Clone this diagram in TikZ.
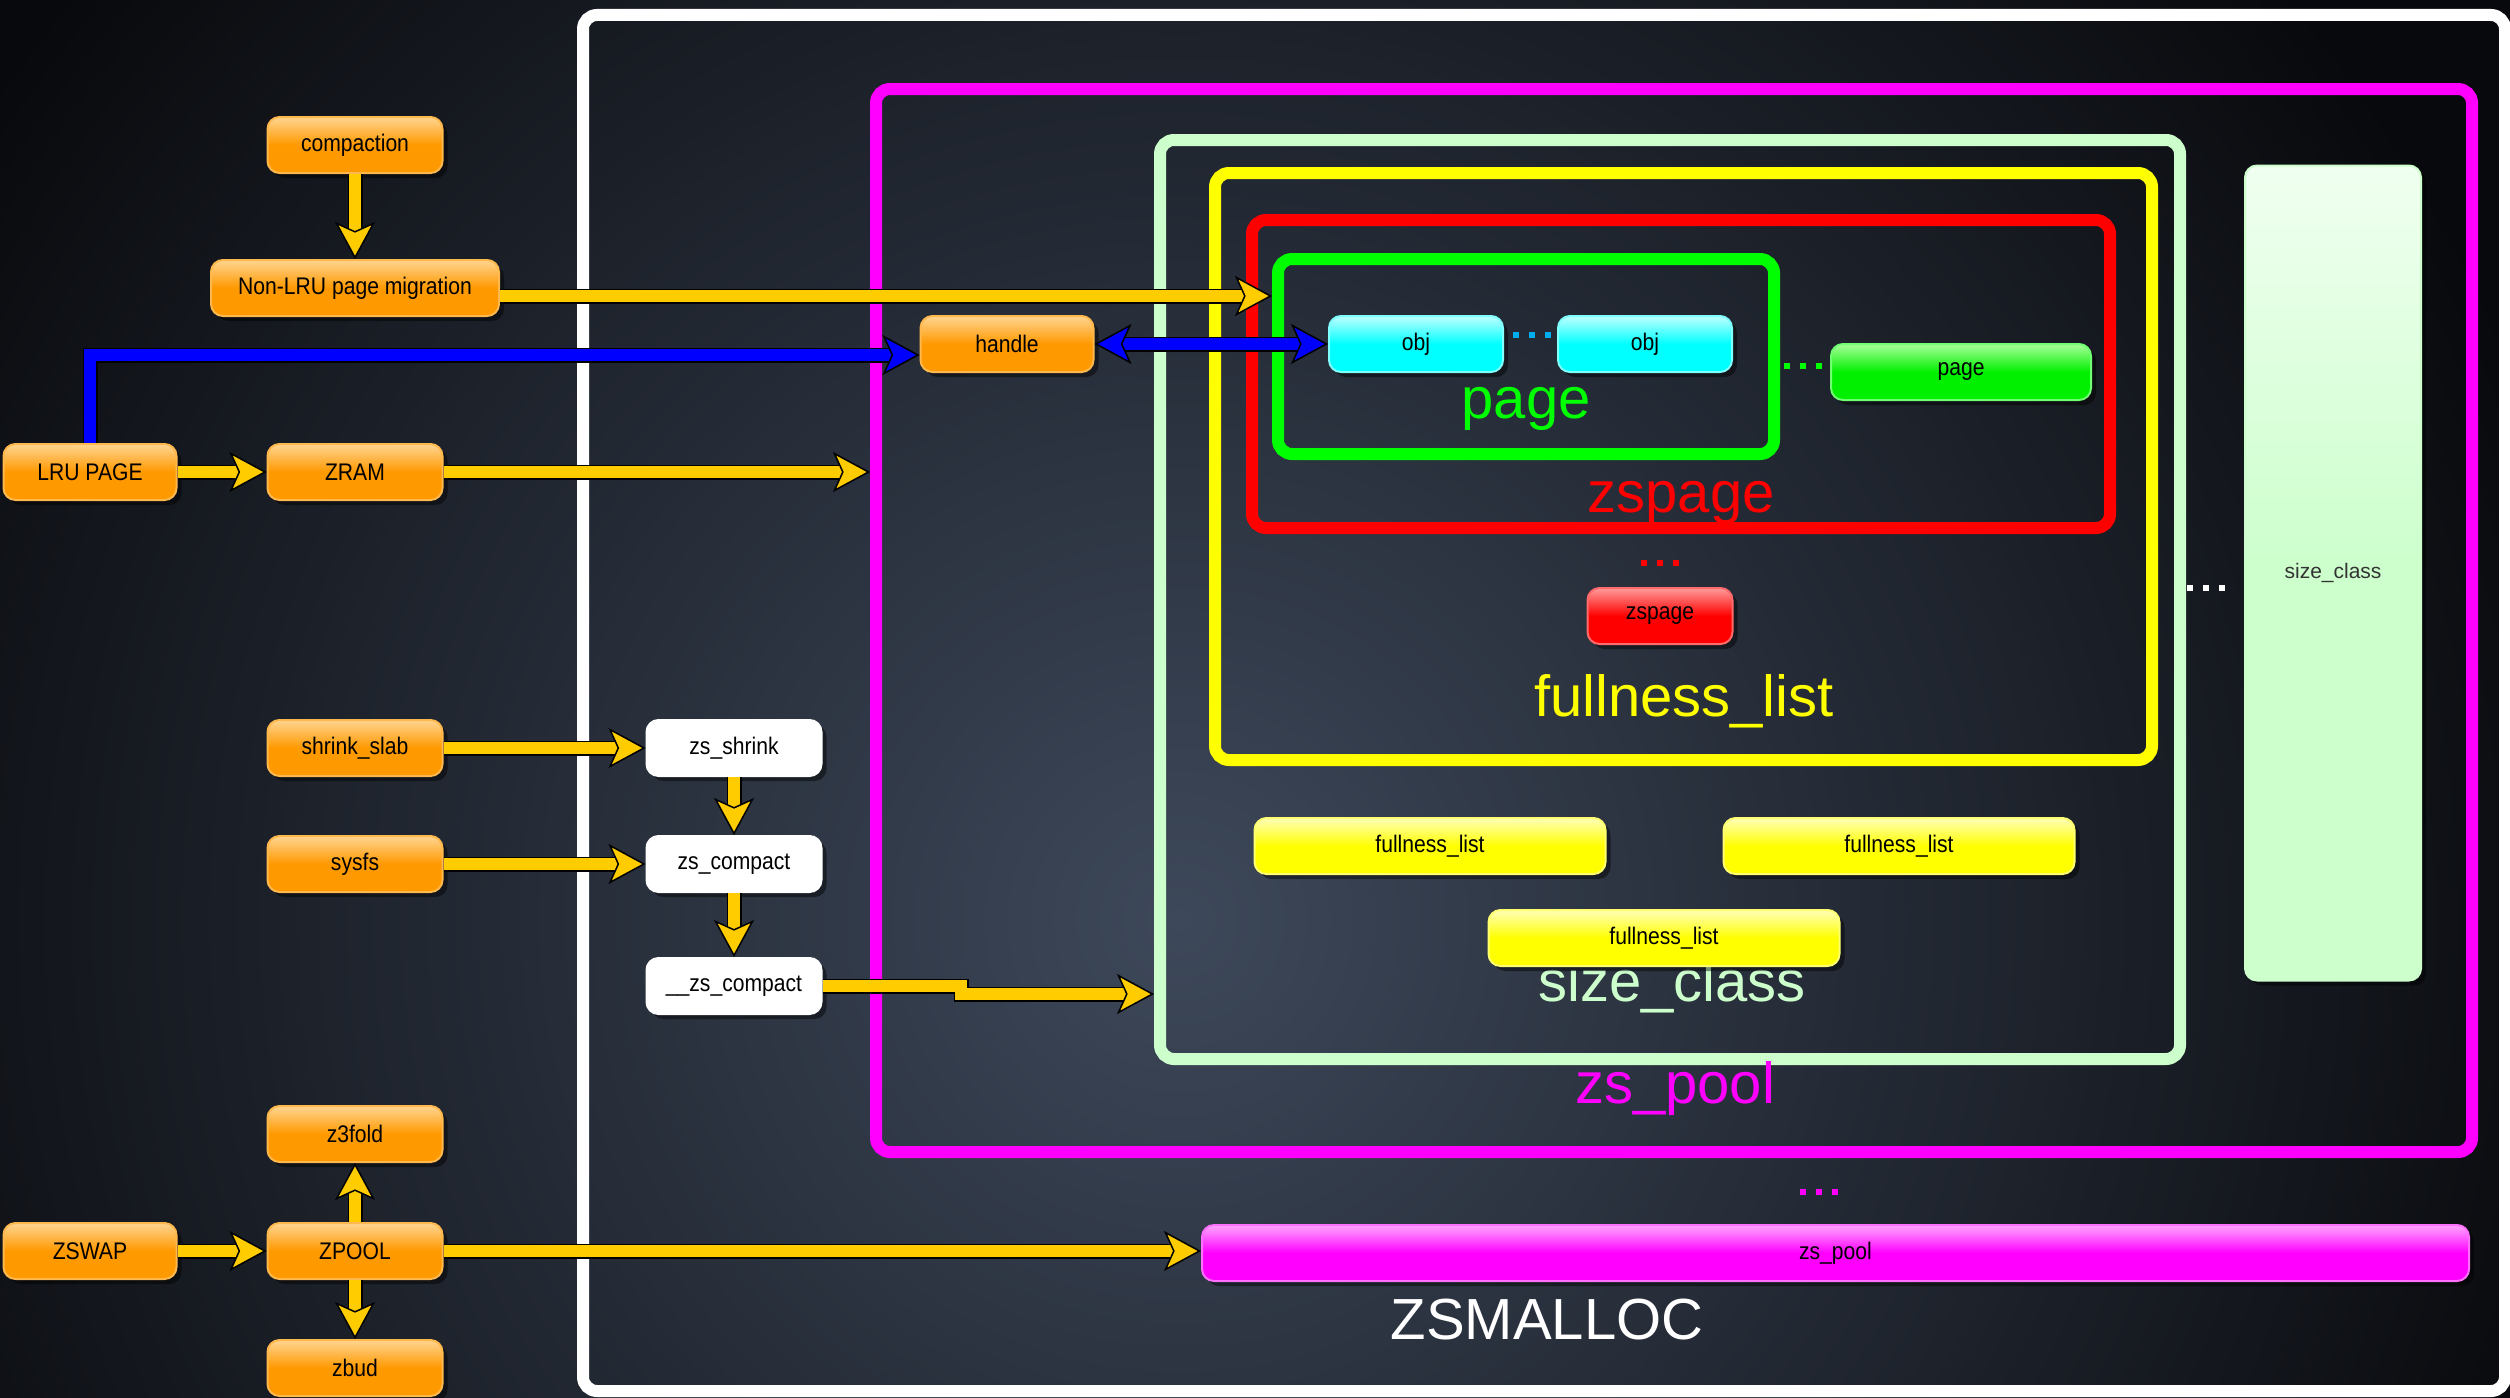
\documentclass[tikz,border=0pt]{standalone}
\usepackage{fontspec}
\setmainfont{Liberation Sans}
\newfontfamily\nf{Liberation Sans}[FakeStretch=0.88]
\usetikzlibrary{arrows.meta,shadows,calc}
\definecolor{bgout}{HTML}{08090C}
\definecolor{bgin}{HTML}{3D485A}
\definecolor{arrY}{HTML}{FFCC00}
\definecolor{arrB}{HTML}{0000FF}
\definecolor{oBase}{HTML}{FF9900}
\definecolor{oTop}{HTML}{FFD591}
\definecolor{oEdge}{HTML}{FFB84D}
\definecolor{cBase}{HTML}{00FFFF}
\definecolor{cTop}{HTML}{BFFFFF}
\definecolor{cEdge}{HTML}{80FFFF}
\definecolor{gBase}{HTML}{00F000}
\definecolor{gTop}{HTML}{A8FF98}
\definecolor{gEdge}{HTML}{70FF70}
\definecolor{rBase}{HTML}{FF0000}
\definecolor{rTop}{HTML}{FF9C9C}
\definecolor{rEdge}{HTML}{FF6A6A}
\definecolor{yBase}{HTML}{FFFF00}
\definecolor{yTop}{HTML}{FFFFB8}
\definecolor{yEdge}{HTML}{FFFF70}
\definecolor{mBase}{HTML}{FF00FF}
\definecolor{mTop}{HTML}{FFA6FF}
\definecolor{mEdge}{HTML}{FF70FF}
\definecolor{lgreen}{HTML}{CCFFCC}
\definecolor{lgTop}{HTML}{F0FFF0}
\definecolor{fgreen}{HTML}{00FF00}
\definecolor{fred}{HTML}{FF0000}
\definecolor{fyellow}{HTML}{FFFF00}
\definecolor{fmag}{HTML}{FF00FF}
\tikzset{
  frame/.style={rounded corners=14pt, line width=12pt, inner sep=0pt},
  box/.style={rounded corners=12pt, minimum height=56pt, inner sep=0pt,
    font=\nf\fontsize{24}{28}\selectfont, text=black, line width=2pt,
    drop shadow={shadow xshift=5pt, shadow yshift=-5pt, opacity=0.45, fill=black}},
  obox/.style={box, draw=oEdge, top color=oTop, bottom color=oBase, middle color=oBase},
  cbox/.style={box, draw=cEdge, top color=cTop, bottom color=cBase, middle color=cBase},
  gbox/.style={box, draw=gEdge, top color=gTop, bottom color=gBase, middle color=gBase},
  rbox/.style={box, draw=rEdge, top color=rTop, bottom color=rBase, middle color=rBase},
  ybox/.style={box, draw=yEdge, top color=yTop, bottom color=yBase, middle color=yBase},
  mbox/.style={box, draw=mEdge, top color=mTop, bottom color=mBase, middle color=mBase},
  wbox/.style={box, fill=white, draw=white},
  scbox/.style={box, draw=lgreen, top color=lgTop, bottom color=lgreen, middle color=lgreen,
    font=\fontsize{21}{25}\selectfont, text=black!80},
  biglabel/.style={anchor=base, inner sep=0pt, font=\fontsize{58}{64}\selectfont},
  yarr/.style={draw=arrY, line width=12pt,
    -{Stealth[length=37pt, width=40pt, inset=9pt, fill=arrY, color=black, line width=1.5pt]},
    preaction={draw=black, line width=15pt, -, shorten >=30pt}},
  barr/.style={draw=arrB, line width=12pt,
    -{Stealth[length=37pt, width=40pt, inset=9pt, fill=arrB, color=black, line width=1.5pt]},
    preaction={draw=black, line width=15pt, -, shorten >=30pt}},
  bdarr/.style={draw=arrB, line width=12pt,
    {Stealth[length=37pt, width=40pt, inset=9pt, fill=arrB, color=black, line width=1.5pt]}-{Stealth[length=37pt, width=40pt, inset=9pt, fill=arrB, color=black, line width=1.5pt]},
    preaction={draw=black, line width=15pt, -, shorten >=30pt, shorten <=30pt}},
  dots/.style={line width=6pt, dash pattern=on 6pt off 10pt}
}
\begin{document}
\begin{tikzpicture}[x=1pt,y=-1pt]
\useasboundingbox (0,0) rectangle (2510,1397);
% background
\fill[bgout] (0,0) rectangle (2510,1397);
\begin{scope}
  \clip (0,0) rectangle (2510,1397);
  \shade[inner color=bgin, outer color=bgout] (1180,920) circle (1450pt);
\end{scope}

% frames
\node[frame, draw=white, minimum width=1922pt, minimum height=1376pt] (zsmfr) at (1544,703) {};
\node[frame, draw=fmag, minimum width=1596pt, minimum height=1063pt] (poolfr) at (1674,620.5) {};
\node[frame, draw=lgreen, minimum width=1020pt, minimum height=919pt] (scfr) at (1670,599.5) {};
\node[frame, draw=fyellow, minimum width=937pt, minimum height=587pt] (flfr) at (1683.5,466.5) {};
\node[frame, draw=fred, minimum width=858pt, minimum height=308pt] (zspfr) at (1681,374) {};
\node[frame, draw=fgreen, minimum width=496pt, minimum height=195pt] (pagefr) at (1526,356.5) {};

% big labels
\node[biglabel, text=fgreen] (lpage) at (1526,418) {page};
\node[biglabel, text=fred] (lzspage) at (1681,512) {zspage};
\node[biglabel, text=fyellow] (lfl) at (1684,716) {fullness\_list};
\node[biglabel, text=lgreen] (lsc) at (1672,1001) {size\_class};
\node[biglabel, text=fmag] (lpool) at (1675,1103) {zs\_pool};
\node[biglabel, text=white] (lzsm) at (1547,1339) {ZSMALLOC};

% left boxes
\node[obox, minimum width=175pt] (compaction) at (355,145) {compaction};
\node[obox, minimum width=288pt] (nonlru) at (355,288) {Non-LRU page migration};
\node[obox, minimum width=173pt] (lru) at (90,472) {LRU PAGE};
\node[obox, minimum width=175pt] (zram) at (355,472) {ZRAM};
\node[obox, minimum width=173pt] (handle) at (1007,344) {handle};
\node[obox, minimum width=175pt] (shrink) at (355,748) {shrink\_slab};
\node[obox, minimum width=175pt] (sysfs) at (355,864) {sysfs};
\node[obox, minimum width=175pt] (z3fold) at (355,1134) {z3fold};
\node[obox, minimum width=173pt] (zswap) at (90,1251) {ZSWAP};
\node[obox, minimum width=175pt] (zpool) at (355,1251) {ZPOOL};
\node[obox, minimum width=175pt] (zbud) at (355,1368) {zbud};

% white boxes
\node[wbox, minimum width=175pt] (zsshrink) at (734,748) {zs\_shrink};
\node[wbox, minimum width=175pt] (zscompact) at (734,864) {zs\_compact};
\node[wbox, minimum width=175pt] (zscompactb) at (734,986) {\_\_zs\_compact};

% inner boxes
\node[cbox, minimum width=174pt] (obj1) at (1416,344) {obj};
\node[cbox, minimum width=174pt] (obj2) at (1645,344) {obj};
\node[gbox, minimum width=260pt] (pagebox) at (1961,372) {page};
\node[rbox, minimum width=145pt] (zspagebox) at (1660,616) {zspage};
\node[ybox, minimum width=351pt] (fl1) at (1430,846) {fullness\_list};
\node[ybox, minimum width=351pt] (fl2) at (1899,846) {fullness\_list};
\node[ybox, minimum width=351pt] (fl3) at (1664,938) {fullness\_list};
\node[mbox, minimum width=1267pt] (zspoolbar) at (1835.5,1253) {zs\_pool};
\node[scbox, minimum width=176pt, minimum height=815pt] (sctall) at (2333,573) {size\_class};

% dotted ellipses
\draw[dots, cyan] (1513,335) -- (1553,335);
\draw[dots, fgreen] (1784,366) -- (1822,366);
\draw[dots, fred] (1641,563) -- (1680,563);
\draw[dots, white] (2187,588) -- (2226,588);
\draw[dots, fmag] (1800,1192) -- (1839,1192);

% arrows
\draw[yarr] (compaction) -- (nonlru);
\coordinate (nlA) at ($(nonlru.east)+(0,8)$);
\draw[yarr] (nlA) -- (nlA -| pagefr.west);
\draw[yarr] (lru) -- (zram);
\draw[yarr] (zram) -- (zram -| poolfr.west);
\coordinate (hA) at ($(handle.west)+(0,11)$);
\draw[barr] (lru.north) |- (hA);
\draw[bdarr] (handle) -- (obj1);
\draw[yarr] (shrink) -- (zsshrink);
\draw[yarr] (sysfs) -- (zscompact);
\draw[yarr] (zsshrink) -- (zscompact);
\draw[yarr] (zscompact) -- (zscompactb);
\coordinate (jog) at (961,994);
\draw[yarr] (zscompactb.east) -| (jog) -- (jog -| scfr.west);
\draw[yarr] (zswap) -- (zpool);
\draw[yarr] (zpool) -- (z3fold);
\draw[yarr] (zpool) -- (zbud);
\draw[yarr] (zpool.east) -- (zpool.east -| zspoolbar.west);
\end{tikzpicture}
\end{document}
